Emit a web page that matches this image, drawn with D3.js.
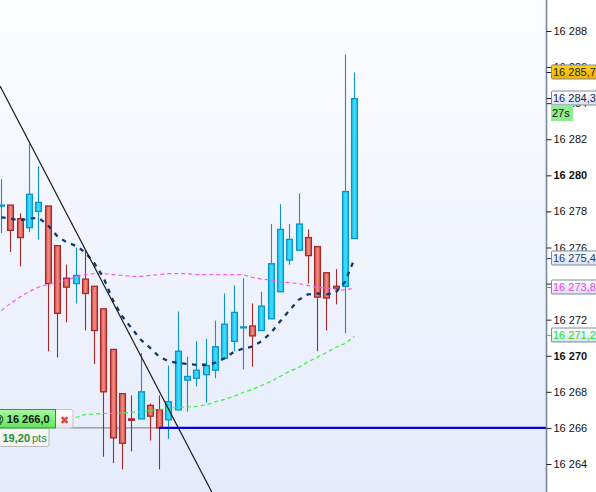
<!DOCTYPE html>
<html>
<head>
<meta charset="utf-8">
<script src="https://cdn.jsdelivr.net/npm/d3@7"></script>
<style>
  html, body { margin: 0; padding: 0; background: #fff; }
  svg { display: block; }
  text { font-family: "Liberation Sans", Arial, sans-serif; font-size: 11px; }
</style>
</head>
<body>
<svg id="chart" width="596" height="492"></svg>
<script>
// prices are offsets above 16 000
const opens  = [278.3,278.35,277.6,277.1,278.0,278.3,276.1,274.3,274.0,274.25,273.85,272.6,270.35,267.9,266.5,266.5,267.25,267.0,266.45,267.0,268.65,268.75,268.95,269.2,269.85,270.8,271.55,271.65,271.4,272.05,273.55,275.3,275.85,276.55,276.05,274.6,273.85,273.85,276.5];
const highs  = [279.8,278.35,277.9,281.75,280.5,278.3,276.1,275.05,276.0,275.85,273.85,272.6,270.35,267.9,267.8,270.15,267.35,267.8,269.45,272.45,269.95,270.8,270.95,271.95,273.45,273.9,274.3,272.9,273.55,277.3,278.4,277.3,279.0,277.0,276.05,274.6,274.8,286.7,285.7];
const lows   = [276.8,275.75,274.95,276.85,276.45,270.25,269.9,271.85,272.9,271.4,269.55,264.4,264.05,263.7,264.7,266.5,265.3,263.7,265.4,267.0,266.9,268.3,267.4,268.75,269.85,270.25,269.25,269.4,271.4,272.05,273.55,275.05,275.85,274.0,270.25,271.4,272.85,271.25,276.5];
const closes = [278.35,276.95,276.55,278.95,278.5,274.0,272.35,273.8,274.45,273.45,271.4,268.0,265.45,265.15,266.42,268.0,266.65,266.0,267.45,270.25,268.85,269.2,269.45,270.5,271.75,272.4,271.6,271.1,272.75,275.1,277.0,276.45,277.3,275.55,273.25,273.2,273.75,279.1,284.25];

const navyLine = [277.67,277.6,277.5,277.6,277.65,277.25,276.65,276.3,276.1,275.75,275.15,274.35,273.1,272.2,271.55,270.9,270.45,269.95,269.7,269.6,269.55,269.5,269.5,269.6,269.85,270.2,270.4,270.5,270.8,271.25,271.9,272.5,273.1,273.4,273.45,273.4,273.5,274.1,275.35];
const pinkLine = [272.5,272.9,273.25,273.55,273.8,273.95,274.1,274.2,274.35,274.5,274.55,274.55,274.5,274.45,274.4,274.4,274.45,274.5,274.55,274.55,274.55,274.5,274.5,274.5,274.5,274.5,274.5,274.35,274.25,274.2,274.1,274.05,274.0,273.9,273.8,273.75,273.65,273.65,273.75];
const greenStart = 8;
const greenLine = [266.58,266.74,266.77,266.8,266.8,266.83,266.86,266.91,266.97,267.02,267.08,267.13,267.16,267.19,267.27,267.44,267.58,267.74,267.96,268.13,268.35,268.57,268.85,269.13,269.35,269.66,269.91,270.18,270.46,270.68,271.07];

const trendIdx = [-0.11, 22.69];
const trendPrice = [284.94, 262.42];
const orderPrice = 266;

const tickValues = [288,286,284,282,280,278,276,274,272,270,268,266,264];
const boldTicks = [280,270];
const tickLabel = v => `16 ${v}`;

const W = 596, H = 492, axisX = 546.5;
const svg = d3.select('#chart');

const x = d3.scaleLinear().domain([0, 38]).range([1.2, 354.3]);
const y = d3.scaleLinear().domain([264, 288]).range([464, 31]);

function gradient(id, stops, horizontal) {
  const g = defs.append('linearGradient').attr('id', id)
    .attr('x1', 0).attr('y1', 0)
    .attr('x2', horizontal ? 1 : 0).attr('y2', horizontal ? 0 : 1);
  stops.forEach(([o, c]) => g.append('stop').attr('offset', o).attr('stop-color', c));
}
const defs = svg.append('defs');
gradient('bg', [[0, '#fcfdff'], [1, '#e5ebfb']]);
gradient('upBody', [[0, '#1cc4f0'], [0.5, '#3fdcff'], [1, '#22ccf6']], true);
gradient('downBody', [[0, '#d9544f'], [0.5, '#f08a80'], [1, '#dd5c56']], true);
gradient('gold', [[0, '#ffd21a'], [1, '#f5b000']]);
gradient('pale', [[0, '#ffffff'], [1, '#d8e0f2']]);
gradient('greenBox', [[0, '#aaf7a0'], [1, '#5fe65a']]);
gradient('closeBox', [[0, '#ffffff'], [1, '#e8e8e8']]);
defs.append('clipPath').attr('id', 'plot').append('rect').attr('width', axisX).attr('height', H);

svg.append('rect').attr('width', axisX).attr('height', H).attr('fill', 'url(#bg)');

const plot = svg.append('g').attr('clip-path', 'url(#plot)');

// order line: grey left of the last candle touching it, blue after
plot.append('line').attr('x1', 70).attr('x2', 160).attr('y1', y(orderPrice)).attr('y2', y(orderPrice))
  .attr('stroke', '#8f8f8f').attr('stroke-width', 1.2);

// candles
const candles = opens.map((o, i) => ({ i, o, h: highs[i], l: lows[i], c: closes[i], up: closes[i] >= opens[i] }));
const bar = plot.selectAll('g.candle').data(candles).join('g').attr('class', 'candle');
const cx = d => Math.round(x(d.i)) + 0.5;

bar.append('line')
  .attr('x1', cx).attr('x2', cx)
  .attr('y1', d => y(d.h)).attr('y2', d => y(d.l))
  .attr('stroke', d => d.up ? '#0a94c8' : '#a82828').attr('stroke-width', 1.1);

bar.append('rect')
  .attr('x', d => cx(d) - 2.9)
  .attr('width', 5.8)
  .attr('y', d => Math.min(y(d.o), y(d.c)))
  .attr('height', d => Math.max(1, Math.abs(y(d.o) - y(d.c))))
  .attr('fill', d => d.up ? 'url(#upBody)' : 'url(#downBody)')
  .attr('stroke', d => d.up ? '#0a94c8' : '#a82828')
  .attr('stroke-width', 1.3);

// moving averages
const line = d3.line().x((d, i) => x(i)).y(d => y(d));
plot.append('path').attr('d', line(pinkLine)).attr('fill', 'none')
  .attr('stroke', '#f75cf2').attr('stroke-width', 1.2).attr('stroke-dasharray', '4 3');
plot.append('path')
  .attr('d', d3.line().x((d, i) => x(i + greenStart)).y(d => y(d))(greenLine))
  .attr('fill', 'none').attr('stroke', '#3ff03a').attr('stroke-width', 1.2).attr('stroke-dasharray', '4 3');
plot.append('path').attr('d', line(navyLine)).attr('fill', 'none')
  .attr('stroke', '#0f3a6e').attr('stroke-width', 2.3).attr('stroke-dasharray', '4.5 5.5');

// trend line
plot.append('line')
  .attr('x1', x(trendIdx[0])).attr('y1', y(trendPrice[0]))
  .attr('x2', x(trendIdx[1])).attr('y2', y(trendPrice[1]))
  .attr('stroke', '#1c1c1c').attr('stroke-width', 1.2);

plot.append('line').attr('x1', 159).attr('x2', axisX).attr('y1', y(orderPrice)).attr('y2', y(orderPrice))
  .attr('stroke', '#0000e0').attr('stroke-width', 2.2);

// right axis
const axis = d3.axisRight(y).tickValues(tickValues).tickFormat(tickLabel).tickSize(5).tickPadding(2);
const axisG = svg.append('g').attr('transform', `translate(${axisX},0)`).call(axis);
axisG.select('.domain').attr('stroke', '#76899a').attr('stroke-width', 1.6).attr('d', `M0,0V${H}`);
axisG.selectAll('.tick line').attr('stroke', '#222');
axisG.selectAll('.tick text')
  .attr('font-size', d => boldTicks.includes(d) ? 12 : 11)
  .attr('font-weight', d => boldTicks.includes(d) ? 'bold' : 'normal')
  .attr('fill', '#111');

// price tags on the axis
function tag(value, text, fill, color, border) {
  const cy = Math.round(y(value));
  svg.append('line').attr('x1', axisX).attr('x2', 552).attr('y1', cy + 0.5).attr('y2', cy + 0.5).attr('stroke', border);
  svg.append('rect').attr('x', 551.5).attr('y', cy - 7).attr('width', 46).attr('height', 14)
    .attr('fill', fill).attr('stroke', '#7b8b9b').attr('rx', 1);
  svg.append('text').attr('x', 553).attr('y', cy + 4).attr('fill', color).text(text);
}
tag(285.7, '16 285,7', 'url(#gold)', '#222', '#222');
tag(284.3, '16 284,3', 'url(#pale)', '#221c55', '#222');
tag(275.4, '16 275,4', 'url(#pale)', '#23406e', '#23406e');
tag(273.8, '16 273,8', 'url(#pale)', '#f03cf0', '#f03cf0');
tag(271.15, '16 271,2', 'url(#pale)', '#22e022', '#22e022');

svg.append('rect').attr('x', 551).attr('y', 105).attr('width', 22).attr('height', 16).attr('fill', '#8fec8f');
svg.append('text').attr('x', 552).attr('y', 117).attr('font-size', 12).attr('fill', '#111').text('27s');

// order tag, bottom left
svg.append('rect').attr('x', -4).attr('y', 428).attr('width', 53).attr('height', 18.5).attr('rx', 2)
  .attr('fill', '#f6f6f6').attr('stroke', '#b9b9b9');
svg.append('text').attr('x', 2.5).attr('y', 442).attr('font-size', 12).attr('font-weight', 'bold').attr('fill', '#1d8f2b').text('19,20');
svg.append('text').attr('x', 32).attr('y', 442).attr('font-size', 10).attr('fill', '#2a8a4a').text('pts');

svg.append('rect').attr('x', 55).attr('y', 409.5).attr('width', 18).attr('height', 18.5).attr('rx', 2)
  .attr('fill', 'url(#closeBox)').attr('stroke', '#c4c4c4');
svg.append('text').attr('x', 64.5).attr('y', 424).attr('text-anchor', 'middle').attr('font-size', 16)
  .style('font-family', '"DejaVu Sans"').attr('font-weight', 'bold').attr('fill', '#d84848').text('✖');
svg.append('rect').attr('x', -4).attr('y', 409.5).attr('width', 59.5).attr('height', 18.5)
  .attr('fill', 'url(#greenBox)').attr('stroke', '#2a9a35');
svg.append('text').attr('x', -7).attr('y', 423).attr('font-size', 12).attr('font-weight', 'bold').attr('fill', '#0b1a0b').text('@ 16 266,0');
</script>
</body>
</html>
